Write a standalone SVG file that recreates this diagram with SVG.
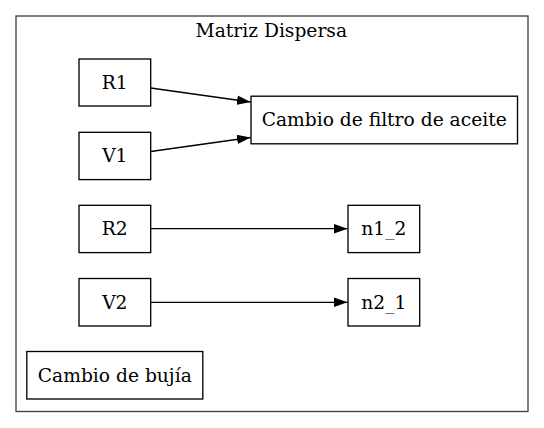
<svg xmlns="http://www.w3.org/2000/svg" width="544" height="428" viewBox="0 0 544 428">
<style>
.n rect{fill:#fff;stroke:#000;stroke-width:1.33}
text{font-family:"DejaVu Serif","Liberation Serif",serif;font-size:18.67px;text-anchor:middle;fill:#000}
.e{stroke:#000;stroke-width:1.33;fill:none;marker-end:url(#ah)}
</style>
<defs>
<marker id="ah" markerUnits="userSpaceOnUse" markerWidth="14" markerHeight="10" refX="13.5" refY="5" orient="auto" viewBox="0 0 14 10">
<path d="M0,0.3 L13.5,5 L0,9.7 Z" fill="#000"/>
</marker>
</defs>
<rect width="544" height="428" fill="#fff"/>
<g id="cluster">
<rect x="16" y="16" width="512" height="395.5" fill="none" stroke="#404040" stroke-width="1.33"/>
<text x="271.3" y="37">Matriz Dispersa</text>
</g>
<g id="connectors">
<path class="e" d="M150.7,88 L250.5,102"/>
<path class="e" d="M150.7,151.5 L250.5,137.5"/>
<path class="e" d="M150.7,228.7 L347.5,228.7"/>
<path class="e" d="M150.7,302.3 L347.5,302.3"/>
</g>
<g id="R1" class="n"><rect x="79" y="59" width="71.7" height="47"/><text x="114.8" y="89">R1</text></g>
<g id="V1" class="n"><rect x="79" y="132.3" width="71.7" height="47.3"/><text x="114.8" y="162.3">V1</text></g>
<g id="R2" class="n"><rect x="79" y="205.3" width="71.7" height="47.3"/><text x="114.8" y="235.3">R2</text></g>
<g id="V2" class="n"><rect x="79" y="278.5" width="71.7" height="47.5"/><text x="114.8" y="308.5">V2</text></g>
<g id="bujia" class="n"><rect x="26.8" y="351.5" width="176" height="47.5"/><text x="114.8" y="381.5">Cambio de bujía</text></g>
<g id="filtro" class="n"><rect x="251" y="96.2" width="266.5" height="47.6"/><text x="384.2" y="126">Cambio de filtro de aceite</text></g>
<g id="n1_2" class="n"><rect x="348" y="205.3" width="71.7" height="47.3"/><text x="383.8" y="235.3">n1_2</text></g>
<g id="n2_1" class="n"><rect x="348" y="278.5" width="71.7" height="47.5"/><text x="383.8" y="308.5">n2_1</text></g>
</svg>
